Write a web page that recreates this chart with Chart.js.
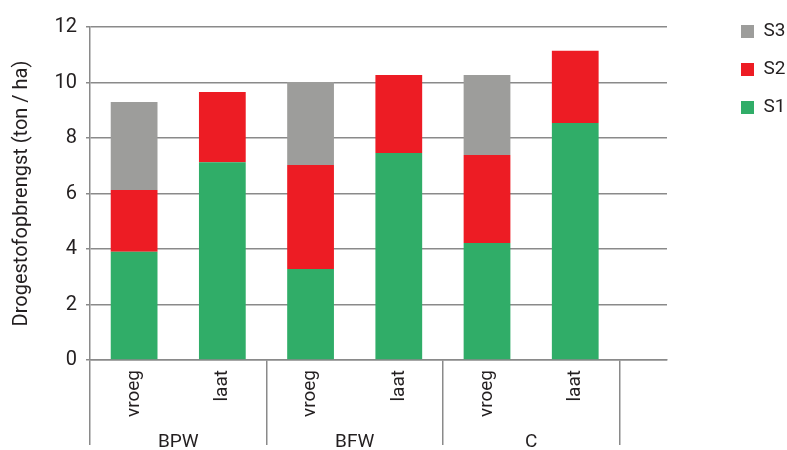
<!DOCTYPE html>
<html>
<head>
<meta charset="utf-8">
<script src="https://cdn.jsdelivr.net/npm/chart.js@4.4.0/dist/chart.umd.min.js"></script>
<style>
  html, body { margin: 0; padding: 0; background: #fff; }
  #wrap { width: 787px; height: 450px; }
</style>
</head>
<body>
<div id="wrap"><canvas id="graph1"></canvas></div>
<script>
// data
const categories = ["vroeg", "laat", "vroeg", "laat", "vroeg", "laat"];
const groups = ["BPW", "BFW", "C"];
const s1 = [3.9, 7.13, 3.28, 7.46, 4.22, 8.54];
const s2 = [2.23, 2.53, 3.75, 2.81, 3.17, 2.6];
const s3 = [3.17, null, 2.99, null, 2.88, null];
const yTicks = [0, 2, 4, 6, 8, 10, 12];

const lineGray = "#8a8a8a";
const textColor = "#231f20";

Chart.defaults.font.family = "Roboto, 'Liberation Sans', sans-serif";
Chart.defaults.color = textColor;

function points(values) {
  return values.map(function (v, i) { return { x: i, y: v }; });
}

const ctx = document.getElementById("graph1");

new Chart(ctx, {
  type: "bar",
  data: {
    datasets: [
      { label: "S1", data: points(s1), backgroundColor: "#30ad68" },
      { label: "S2", data: points(s2), backgroundColor: "#ed1c24" },
      { label: "S3", data: points(s3), backgroundColor: "#9d9d9b" }
    ]
  },
  options: {
    responsive: true,
    maintainAspectRatio: false,
    animation: false,
    categoryPercentage: 1,
    barPercentage: 0.53,
    layout: { padding: { top: 3, left: 0, right: 0, bottom: 0 } },
    plugins: {
      // empty title only keeps the plot away from the top edge
      title: { display: true, text: "", font: { size: 10, lineHeight: 1 }, padding: { top: 0, bottom: 14 } },
      legend: {
        position: "right",
        align: "start",
        reverse: true,
        maxWidth: 65,
        labels: { boxWidth: 13, boxHeight: 13, padding: 19, font: { size: 19 }, color: textColor }
      },
      tooltip: { enabled: false }
    },
    scales: {
      x: {
        type: "linear",
        stacked: true,
        offset: false,
        min: -0.5,
        max: 6.04,
        afterBuildTicks: function (scale) {
          scale.ticks = categories.map(function (c, i) { return { value: i }; });
        },
        afterFit: function (scale) { scale.height = 65; },
        ticks: {
          autoSkip: false,
          minRotation: 90,
          maxRotation: 90,
          padding: -75,
          font: { size: 19 },
          color: textColor,
          callback: function (v) { return categories[v]; }
        },
        grid: {
          offset: true,
          drawOnChartArea: false,
          drawTicks: true,
          tickLength: 85,
          lineWidth: 1.5,
          color: function (c) {
            return (c.index === undefined || c.index % 2 === 0) ? lineGray : "rgba(0,0,0,0)";
          }
        },
        border: { display: true, color: lineGray, width: 1.5 }
      },
      x2: {
        type: "linear",
        position: "bottom",
        weight: 1,
        offset: false,
        min: -0.5,
        max: 6.04,
        afterBuildTicks: function (scale) {
          scale.ticks = groups.map(function (g, i) { return { value: 2 * i + 0.5 }; });
        },
        afterFit: function (scale) { scale.height = 25; },
        ticks: {
          autoSkip: false,
          minRotation: 0,
          maxRotation: 0,
          padding: 6,
          font: { size: 19 },
          color: textColor,
          callback: function (v, i) { return groups[i]; }
        },
        grid: { display: false, drawTicks: false },
        border: { display: false }
      },
      y: {
        stacked: true,
        min: 0,
        max: 12,
        afterBuildTicks: function (scale) {
          scale.ticks = yTicks.map(function (v) { return { value: v }; });
        },
        afterFit: function (scale) { scale.width = 90; },
        ticks: { padding: 9, font: { size: 20 }, color: textColor },
        grid: { color: lineGray, lineWidth: 1.5, tickLength: 4, drawTicks: true },
        border: { display: true, color: lineGray, width: 1.5 },
        title: {
          display: true,
          text: "Drogestofopbrengst (ton / ha)",
          font: { size: 20 },
          padding: { top: 10, bottom: 0 },
          color: textColor
        }
      },
      // spacer between the plot and the legend
      yRight: {
        position: "right",
        grid: { display: false, drawTicks: false },
        ticks: { display: false },
        border: { display: false },
        afterFit: function (scale) { scale.width = 55; }
      }
    }
  }
});
</script>
</body>
</html>
